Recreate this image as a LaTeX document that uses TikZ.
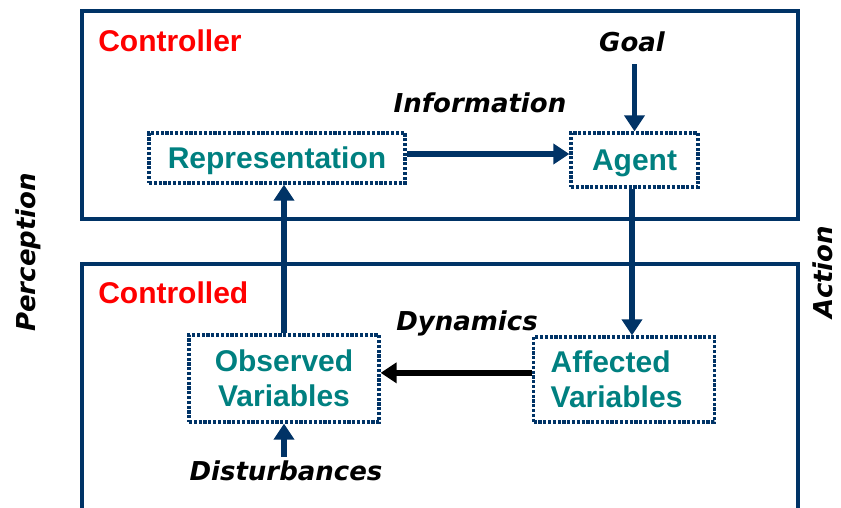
\documentclass[tikz,border=0pt]{standalone}
\usepackage{fontspec}
\setmainfont{Liberation Sans}
\newfontfamily\handfont{DejaVu Sans}
\usetikzlibrary{arrows.meta}
\definecolor{navy}{RGB}{0,51,102}
\definecolor{tealtxt}{RGB}{0,128,128}
\begin{document}
\begin{tikzpicture}[x=0.75pt,y=-0.75pt,
  frame/.style={draw=navy,line width=2.4pt},
  title/.style={text=red,font=\fontsize{22.5}{26}\selectfont\bfseries,anchor=west,inner sep=0pt},
  var/.style={draw=navy,line width=2.5pt,dash pattern=on 2.4pt off 1.2pt,text=tealtxt,
    font=\fontsize{22.5}{26}\selectfont\bfseries,inner sep=0pt,align=center},
  hand/.style={font=\handfont\fontsize{19.5}{22}\selectfont\bfseries\itshape,inner sep=0pt},
  navyarrow/.style={draw=navy,line width=4.2pt,-{Triangle[width=15pt,length=12pt]}},
  blackarrow/.style={draw=black,line width=4.4pt,-{Triangle[width=15pt,length=12pt]}}]
\useasboundingbox (0,0) rectangle (841,507);
\clip (0,0) rectangle (841,507);
% frames
\draw[frame] (82,11) rectangle (798,219);
\draw[frame] (82,530) -- (82,264) -- (798,264) -- (798,530);
\node[title] (ctrl) at (98,41) {Controller};
\node[title] (ctrld) at (98,293) {Controlled};
% nodes
\node[var,minimum width=192pt,minimum height=37.5pt,text depth=0pt] (rep) at (277,158) {Representation};
\node[var,minimum width=95.25pt,minimum height=40.5pt,text depth=0pt] (agent) at (634.5,160) {Agent};
\node[var,minimum width=142.5pt,minimum height=65.25pt] (obs) at (284,378.5) {Observed\\Variables};
\node[var,minimum width=135pt,minimum height=63.75pt,align=left,text width=110pt,inner xsep=12.75pt] (aff) at (624,379.5) {Affected\\Variables};
% labels
\node[hand] (goal) at (632,42) {Goal};
\node[hand] (info) at (480,103) {Information};
\node[hand] (dyn) at (467,323) {Dynamics};
\node[hand] (dist) at (286,471) {Disturbances};
\node[hand,rotate=90] (perc) at (28,252) {Perception};
\node[hand,rotate=90] (act) at (823,272) {Action};
% connectors
\draw[navyarrow,shorten <=9pt] (goal.south -| agent.south) -- (agent.north);
\draw[navyarrow] ([yshift=3pt]rep.east) -- ([yshift=3pt]rep.east -| agent.west);
\draw[navyarrow] (agent.south -| 632,0) -- (aff.north -| 632,0);
\draw[blackarrow] ([yshift=5pt]aff.west) -- ([yshift=5pt]aff.west -| obs.east);
\draw[navyarrow] (obs.north) -- (obs.north |- rep.south);
\draw[navyarrow,shorten <=3pt] (dist.north -| obs.south) -- (obs.south);
\end{tikzpicture}
\end{document}
